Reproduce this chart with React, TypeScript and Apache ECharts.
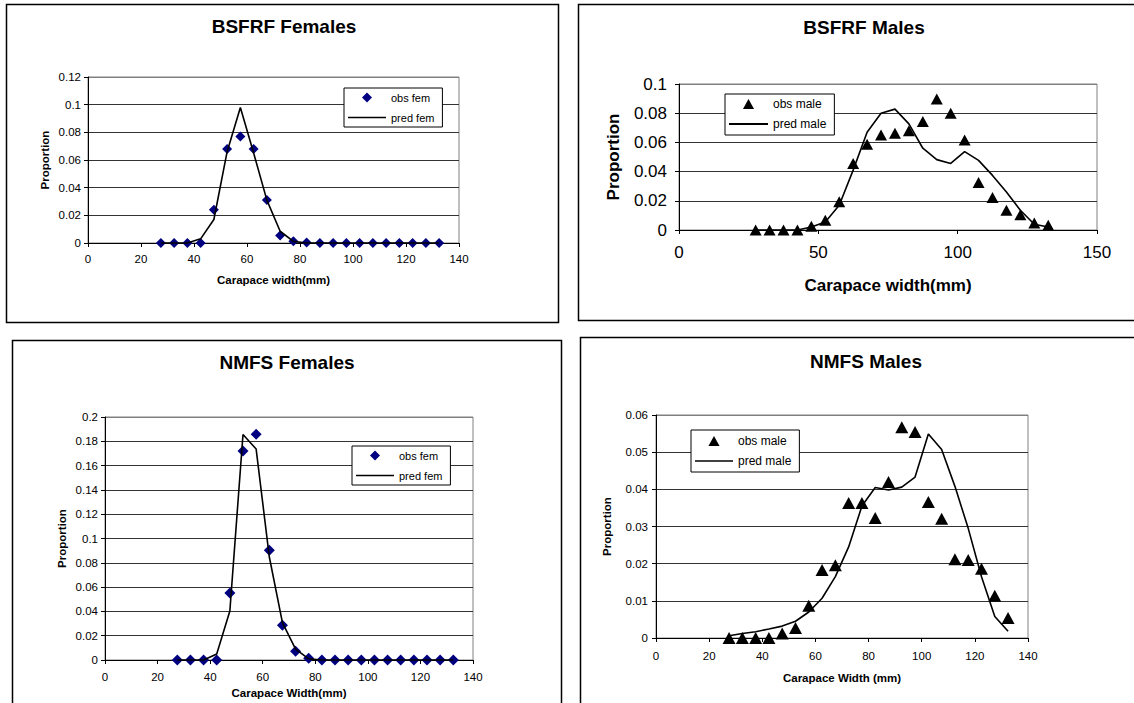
import React, { useEffect, useRef } from "react";
import * as echarts from "echarts";

// Carapace width class mid-points (mm)
const widths = [27.5, 32.5, 37.5, 42.5, 47.5, 52.5, 57.5, 62.5, 67.5, 72.5, 77.5, 82.5, 87.5, 92.5, 97.5, 102.5, 107.5, 112.5, 117.5, 122.5, 127.5, 132.5];

// BSFRF Females
const bsfrfObsFem = [0, 0, 0, 0, 0.024, 0.068, 0.077, 0.068, 0.031, 0.0055, 0.0012, 0.0004, 0, 0, 0, 0, 0, 0, 0, 0, 0, 0];
const bsfrfPredFem = [0, 0, 0, 0.003, 0.017, 0.066, 0.098, 0.065, 0.031, 0.0085, 0.0012, 0, 0, 0, 0, 0, 0, 0, 0, 0, 0, 0];

// BSFRF Males
const bsfrfObsMale = [0, 0, 0, 0, 0.0025, 0.0067, 0.0193, 0.0456, 0.0587, 0.065, 0.0663, 0.068, 0.0743, 0.0897, 0.08, 0.0617, 0.0326, 0.0222, 0.0135, 0.0105, 0.0048, 0.0032];
const bsfrfPredMale = [0, 0, 0, 0, 0.002, 0.0055, 0.017, 0.041, 0.067, 0.08, 0.0828, 0.0727, 0.056, 0.0482, 0.0456, 0.0537, 0.0477, 0.0374, 0.026, 0.0135, 0.0039, 0.002];

// NMFS Females
const nmfsObsFem = [0, 0, 0, 0, 0.0552, 0.172, 0.1858, 0.0903, 0.0286, 0.0073, 0.0014, 0, 0, 0, 0, 0, 0, 0, 0, 0, 0, 0];
const nmfsPredFem = [0, 0, 0, 0.005, 0.0403, 0.1856, 0.1736, 0.085, 0.0307, 0.009, 0.001, 0, 0, 0, 0, 0, 0, 0, 0, 0, 0, 0];

// NMFS Males
const nmfsObsMale = [0, 0, 0, 0, 0.0012, 0.0027, 0.0087, 0.0183, 0.0196, 0.0363, 0.0363, 0.0323, 0.042, 0.0567, 0.0554, 0.0366, 0.0321, 0.0212, 0.021, 0.0186, 0.0114, 0.0054];
const nmfsPredMale = [0.0006, 0.0012, 0.0017, 0.0024, 0.0032, 0.0045, 0.007, 0.0107, 0.0165, 0.0245, 0.0355, 0.0405, 0.0398, 0.0406, 0.0433, 0.0549, 0.0507, 0.0408, 0.0295, 0.0165, 0.0058, 0.0018];

const titles = ["BSFRF Females", "BSFRF Males", "NMFS Females", "NMFS Males"];
const xTitles = ["Carapace width(mm)", "Carapace width(mm)", "Carapace Width(mm)", "Carapace Width (mm)"];
const yTitle = "Proportion";

const FONT = '"Liberation Sans", Arial, Helvetica, sans-serif';

const ICON_DIAMOND = "path://M0,5L5,0L10,5L5,10Z";
const ICON_TRIANGLE = "path://M5,0L10,9L0,9Z";
const ICON_LINE = "path://M0,0H40V1.8H0Z";

type PanelCfg = {
  box: [number, number, number, number];
  grid: { left: number; top: number; width: number; height: number };
  title: { x: number; top: number };
  xMax: number;
  xInt: number;
  yMax: number;
  yInt: number;
  nTicks: number;
  tickFont: number;
  nameFont: number;
  xLabelMargin: number;
  yLabelMargin: number;
  xNameGap: number;
  yNameGap: number;
  legend: { left: number; top: number; padding: number[]; itemWidth: number; itemGap: number; font: number };
  obsName: string;
  predName: string;
  obs: number[];
  pred: number[];
  symbol: string;
  icon: string;
  symbolSize: number | number[];
  color: string;
};

const panels: PanelCfg[] = [
  {
    box: [6.5, 4.5, 552, 318],
    grid: { left: 88, top: 77, width: 371, height: 166 },
    title: { x: 284, top: 17 },
    xMax: 140, xInt: 20, yMax: 0.12, yInt: 0.02, nTicks: 7,
    tickFont: 11.5, nameFont: 11.5, xLabelMargin: 10, yLabelMargin: 7, xNameGap: 31, yNameGap: 37,
    legend: { left: 344, top: 88, padding: [4, 8, 4, 4], itemWidth: 38, itemGap: 9, font: 11 },
    obsName: "obs fem", predName: "pred fem", obs: bsfrfObsFem, pred: bsfrfPredFem,
    symbol: "diamond", icon: ICON_DIAMOND, symbolSize: 10, color: "#000080",
  },
  {
    box: [578.5, 4.5, 600, 316],
    grid: { left: 679, top: 84, width: 418, height: 146 },
    title: { x: 864, top: 18 },
    xMax: 150, xInt: 50, yMax: 0.1, yInt: 0.02, nTicks: 6,
    tickFont: 17, nameFont: 17, xLabelMargin: 14, yLabelMargin: 12, xNameGap: 47, yNameGap: 57,
    legend: { left: 725, top: 94, padding: [4, 8, 5, 4], itemWidth: 39, itemGap: 8, font: 12 },
    obsName: "obs male", predName: "pred male", obs: bsfrfObsMale, pred: bsfrfPredMale,
    symbol: "triangle", icon: ICON_TRIANGLE, symbolSize: [12, 11], color: "#000000",
  },
  {
    box: [12.5, 340.5, 549, 400],
    grid: { left: 105, top: 417, width: 368, height: 243 },
    title: { x: 287, top: 353 },
    xMax: 140, xInt: 20, yMax: 0.2, yInt: 0.02, nTicks: 11,
    tickFont: 11.5, nameFont: 11.5, xLabelMargin: 11, yLabelMargin: 7, xNameGap: 27, yNameGap: 37,
    legend: { left: 352, top: 446, padding: [4, 8, 4, 4], itemWidth: 38, itemGap: 9, font: 11 },
    obsName: "obs fem", predName: "pred fem", obs: nmfsObsFem, pred: nmfsPredFem,
    symbol: "diamond", icon: ICON_DIAMOND, symbolSize: 11, color: "#000080",
  },
  {
    box: [580.5, 337.5, 600, 400],
    grid: { left: 656, top: 415, width: 372, height: 223 },
    title: { x: 866, top: 352 },
    xMax: 140, xInt: 20, yMax: 0.06, yInt: 0.01, nTicks: 7,
    tickFont: 11.5, nameFont: 11.5, xLabelMargin: 12, yLabelMargin: 8, xNameGap: 34, yNameGap: 43,
    legend: { left: 691, top: 430, padding: [5, 8, 5, 4], itemWidth: 38, itemGap: 8, font: 12 },
    obsName: "obs male", predName: "pred male", obs: nmfsObsMale, pred: nmfsPredMale,
    symbol: "triangle", icon: ICON_TRIANGLE, symbolSize: [13, 12], color: "#000000",
  },
];

function buildOption() {
  const grid: any[] = [];
  const xAxis: any[] = [];
  const yAxis: any[] = [];
  const series: any[] = [];
  const title: any[] = [];
  const legend: any[] = [];
  const graphic: any[] = [];

  panels.forEach((p, i) => {
    graphic.push({
      type: "rect",
      shape: { x: p.box[0], y: p.box[1], width: p.box[2], height: p.box[3] },
      style: { fill: "none", stroke: "#000", lineWidth: 1.5 },
      z: -10,
      silent: true,
    });
    grid.push({
      ...p.grid,
      show: true,
      borderColor: "#808080",
      borderWidth: 1,
      backgroundColor: "transparent",
      containLabel: false,
    });
    title.push({
      text: titles[i],
      left: p.title.x,
      top: p.title.top,
      textAlign: "center",
      padding: 0,
      textStyle: { fontFamily: FONT, fontSize: 19, fontWeight: "bold", color: "#000" },
    });
    const gridColors: string[] = [];
    for (let k = 0; k < p.nTicks; k++) gridColors.push(k === p.nTicks - 1 ? "#808080" : "#333");
    xAxis.push({
      gridIndex: i,
      type: "value",
      min: 0,
      max: p.xMax,
      interval: p.xInt,
      name: xTitles[i],
      nameLocation: "middle",
      nameGap: p.xNameGap,
      nameMoveOverlap: false,
      nameTextStyle: { fontFamily: FONT, fontSize: p.nameFont, fontWeight: "bold", color: "#000" },
      axisLine: { show: true, onZero: false, lineStyle: { color: "#000", width: 1 } },
      axisTick: { show: true, length: 4, lineStyle: { color: "#000" } },
      axisLabel: { fontFamily: FONT, fontSize: p.tickFont, color: "#000", margin: p.xLabelMargin, hideOverlap: false },
      splitLine: { show: false },
    });
    yAxis.push({
      gridIndex: i,
      type: "value",
      min: 0,
      max: p.yMax,
      interval: p.yInt,
      name: yTitle,
      nameLocation: "middle",
      nameGap: p.yNameGap,
      nameMoveOverlap: false,
      nameTextStyle: { fontFamily: FONT, fontSize: p.nameFont, fontWeight: "bold", color: "#000" },
      axisLine: { show: true, onZero: false, lineStyle: { color: "#000", width: 1 } },
      axisTick: { show: true, length: 4, lineStyle: { color: "#000" } },
      axisLabel: { fontFamily: FONT, fontSize: p.tickFont, color: "#000", margin: p.yLabelMargin, hideOverlap: false },
      splitLine: { show: true, lineStyle: { color: gridColors, width: 1 } },
    });
    series.push({
      type: "scatter",
      name: p.obsName,
      xAxisIndex: i,
      yAxisIndex: i,
      data: widths.map((w, k) => [w, p.obs[k]]),
      symbol: p.symbol,
      symbolSize: p.symbolSize,
      itemStyle: { color: p.color, opacity: 1 },
      clip: false,
      z: 3,
    });
    series.push({
      type: "line",
      name: p.predName,
      xAxisIndex: i,
      yAxisIndex: i,
      data: widths.map((w, k) => [w, p.pred[k]]),
      symbol: "none",
      showSymbol: false,
      smooth: false,
      lineStyle: { color: "#000", width: 1.6 },
      itemStyle: { color: "#000" },
      clip: false,
      z: 4,
    });
    legend.push({
      orient: "vertical",
      left: p.legend.left,
      top: p.legend.top,
      padding: p.legend.padding,
      itemWidth: p.legend.itemWidth,
      itemHeight: 10,
      itemGap: p.legend.itemGap,
      symbolKeepAspect: true,
      backgroundColor: "#fff",
      borderColor: "#000",
      borderWidth: 1,
      borderRadius: 0,
      selectedMode: false,
      textStyle: { fontFamily: FONT, fontSize: p.legend.font, color: "#000" },
      data: [
        { name: p.obsName, icon: p.icon, itemStyle: { color: p.color, borderWidth: 0 } },
        { name: p.predName, icon: ICON_LINE, itemStyle: { color: "#000", borderWidth: 0 } },
      ],
      z: 10,
    });
  });

  return {
    animation: false,
    backgroundColor: "#fff",
    title,
    legend,
    grid,
    xAxis,
    yAxis,
    series,
    graphic,
  };
}

export default function App() {
  const ref = useRef<HTMLDivElement>(null);
  useEffect(() => {
    if (!ref.current) return;
    const chart = echarts.init(ref.current, undefined, { renderer: "svg" });
    chart.setOption(buildOption());
    return () => chart.dispose();
  }, []);
  return (
    <div
      ref={ref}
      style={{ position: "absolute", left: 0, top: 0, width: 1134, height: 703, background: "#fff" }}
    />
  );
}
